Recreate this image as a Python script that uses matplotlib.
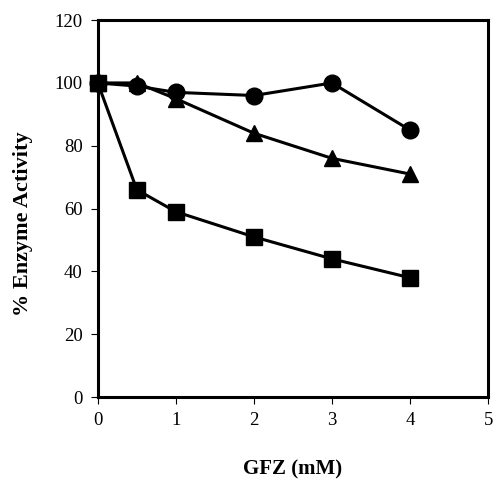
import matplotlib
matplotlib.use("Agg")
import matplotlib.pyplot as plt

plt.rcParams["font.family"] = ["Liberation Serif", "DejaVu Serif"]

gfz = [0, 0.5, 1, 2, 3, 4]
circles = [100, 99, 97, 96, 100, 85]
triangles = [100, 100, 95, 84, 76, 71]
squares = [100, 66, 59, 51, 44, 38]

fig = plt.figure(figsize=(4.94, 4.79), dpi=100)
ax = fig.add_axes([0.198, 0.171, 0.79, 0.787])

ax.plot(gfz, circles, "-o", color="black", lw=2.2, markersize=12, clip_on=False, zorder=3)
ax.plot(gfz, triangles, "-^", color="black", lw=2.2, markersize=12, clip_on=False, zorder=3)
ax.plot(gfz, squares, "-s", color="black", lw=2.2, markersize=12, clip_on=False, zorder=3)

ax.set_xlim(0, 5)
ax.set_ylim(0, 120)
ax.set_xticks(range(0, 6))
ax.set_yticks(range(0, 121, 20))
ax.tick_params(direction="out", length=5, width=0.8, labelsize=13.5, pad=6)
for s in ax.spines.values():
    s.set_linewidth(2.2)

ax.set_xlabel("GFZ (mM)", fontsize=15, fontweight="bold", labelpad=22)
ax.set_ylabel("% Enzyme Activity", fontsize=16, fontweight="bold")
ax.yaxis.set_label_coords(-0.165, 0.46)

fig.savefig("out.png", dpi=100)
